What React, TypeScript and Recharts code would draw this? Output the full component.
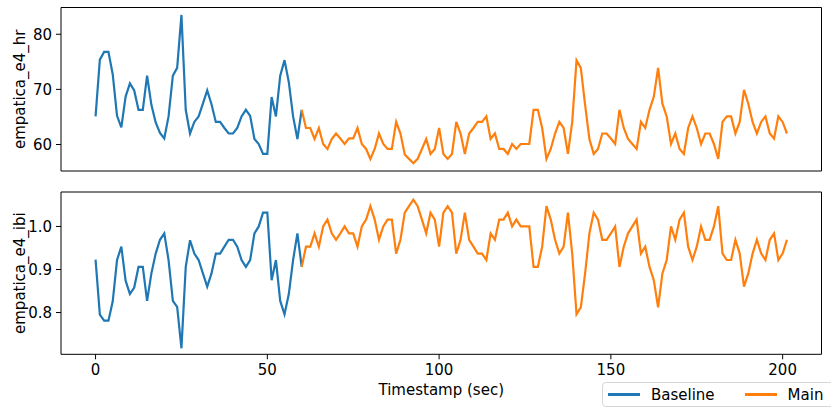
import React from 'react';
import { LineChart, Line, XAxis, YAxis, ReferenceArea } from 'recharts';

// Empatica E4 HR / IBI, baseline vs main session, sampled every 1.25 s.
const SAMPLE_PERIOD = 1.25;

const hrBaseline = [
  65.1, 75.4, 76.8, 76.8, 72.7, 65.2, 63.1, 68.7, 71.1, 69.8,
  66.3, 66.3, 72.5, 67.2, 64.0, 62.1, 61.1, 65.1, 72.5, 73.9,
  83.5, 66.3, 62.0, 64.1, 65.1, 67.4, 69.8, 67.3, 64.1, 64.1,
  63.0, 62.0, 62.0, 63.0, 65.1, 66.3, 65.2, 61.0, 60.1, 58.3,
  58.3, 68.6, 65.1, 72.5, 75.3, 71.3, 65.1, 61.0, 66.3,
];

// starts on the last baseline sample
const hrMain = [
  66.3, 63.0, 63.0, 61.0, 63.0, 60.1, 59.2, 61.0, 62.0, 61.1,
  60.1, 61.1, 61.1, 63.0, 60.1, 59.2, 57.4, 59.2, 62.0, 60.1,
  59.2, 59.2, 64.1, 62.0, 58.2, 57.4, 56.6, 57.4, 59.2, 61.0,
  58.3, 59.2, 63.0, 58.3, 57.4, 58.3, 64.1, 62.0, 58.3, 62.0,
  63.0, 64.1, 64.1, 65.1, 61.0, 62.0, 59.2, 59.2, 58.3, 60.1,
  59.2, 60.1, 60.1, 60.1, 66.3, 66.3, 63.0, 57.4, 59.2, 62.0,
  64.1, 63.0, 58.3, 64.1, 75.3, 73.9, 67.2, 61.0, 58.3, 59.2,
  62.0, 62.0, 61.1, 60.1, 66.3, 63.0, 61.0, 60.1, 59.2, 64.1,
  63.0, 66.3, 68.7, 73.9, 67.4, 65.1, 60.1, 62.0, 59.2, 58.3,
  63.0, 65.1, 63.0, 60.1, 62.0, 62.0, 60.1, 57.4, 64.1, 65.1,
  65.1, 62.0, 64.1, 69.9, 67.4, 64.1, 62.0, 64.1, 65.1, 62.0,
  61.1, 65.1, 64.1, 62.0,
];

const ibiBaseline = [
  0.923, 0.795, 0.781, 0.781, 0.826, 0.922, 0.953, 0.874, 0.843, 0.858,
  0.906, 0.906, 0.827, 0.891, 0.937, 0.969, 0.984, 0.922, 0.827, 0.813,
  0.717, 0.906, 0.968, 0.937, 0.922, 0.891, 0.860, 0.891, 0.937, 0.937,
  0.953, 0.969, 0.969, 0.953, 0.922, 0.906, 0.922, 0.984, 1.000, 1.032,
  1.032, 0.875, 0.922, 0.827, 0.796, 0.843, 0.922, 0.984, 0.906,
];

const ibiMain = [
  0.906, 0.953, 0.953, 0.984, 0.953, 1.000, 1.016, 0.984, 0.969, 0.984,
  1.000, 0.984, 0.984, 0.953, 1.000, 1.016, 1.047, 1.016, 0.969, 1.000,
  1.016, 1.016, 0.937, 0.969, 1.032, 1.047, 1.062, 1.047, 1.016, 0.984,
  1.032, 1.016, 0.953, 1.032, 1.047, 1.032, 0.937, 0.969, 1.032, 0.969,
  0.953, 0.937, 0.937, 0.922, 0.984, 0.969, 1.016, 1.016, 1.032, 1.000,
  1.016, 1.000, 1.000, 1.000, 0.906, 0.906, 0.953, 1.047, 1.016, 0.969,
  0.937, 0.953, 1.032, 0.937, 0.796, 0.812, 0.891, 0.984, 1.032, 1.016,
  0.969, 0.969, 0.984, 1.000, 0.906, 0.953, 0.984, 1.000, 1.016, 0.937,
  0.953, 0.906, 0.875, 0.812, 0.891, 0.922, 1.000, 0.969, 1.016, 1.032,
  0.953, 0.922, 0.953, 1.000, 0.969, 0.969, 1.000, 1.047, 0.937, 0.922,
  0.922, 0.969, 0.937, 0.860, 0.891, 0.937, 0.969, 0.937, 0.922, 0.969,
  0.984, 0.922, 0.937, 0.969,
];

const xTicks = [0, 50, 100, 150, 200];
const hrTicks = [60, 70, 80];
const ibiTicks = [0.8, 0.9, 1.0];

const X_DOMAIN: [number, number] = [-10.06, 211.31];
const HR_DOMAIN: [number, number] = [55.2, 84.85];
const IBI_DOMAIN: [number, number] = [0.703, 1.08];

const BLUE = '#1f77b4';
const ORANGE = '#ff7f0e';
const FONT = '"DejaVu Sans", sans-serif';
const TICK = { fill: '#000', fontSize: 15 };

const mainOffset = hrBaseline.length - 1;
const data = Array.from({ length: mainOffset + hrMain.length }, (_, i) => ({
  t: i * SAMPLE_PERIOD,
  hrBase: i <= mainOffset ? hrBaseline[i] : undefined,
  hrMain: i >= mainOffset ? hrMain[i - mainOffset] : undefined,
  ibiBase: i <= mainOffset ? ibiBaseline[i] : undefined,
  ibiMain: i >= mainOffset ? ibiMain[i - mainOffset] : undefined,
}));

function yLabel(value: string) {
  return {
    value,
    angle: -90,
    position: 'insideLeft' as const,
    offset: 20,
    style: { textAnchor: 'middle', fill: '#000', fontSize: 15 },
  };
}

function Legend() {
  const handle = (color: string) => (
    <span style={{ display: 'inline-block', width: 32, height: 2.2, background: color }} />
  );
  return (
    <div
      style={{
        position: 'absolute',
        left: 602,
        top: 382,
        width: 240,
        height: 25,
        boxSizing: 'border-box',
        border: '1px solid #d6d6d6',
        borderRadius: 4,
        background: 'rgba(255,255,255,0.85)',
        display: 'flex',
        alignItems: 'center',
        paddingLeft: 5,
        fontSize: 15,
        color: '#000',
        whiteSpace: 'nowrap',
      }}
    >
      {handle(BLUE)}
      <span style={{ marginLeft: 11 }}>Baseline</span>
      <span style={{ marginLeft: 30, display: 'flex', alignItems: 'center' }}>{handle(ORANGE)}</span>
      <span style={{ marginLeft: 11 }}>Main</span>
    </div>
  );
}

export default function App() {
  return (
    <div
      style={{
        position: 'fixed',
        left: 0,
        top: 0,
        width: 831,
        height: 416,
        overflow: 'hidden',
        background: '#fff',
        fontFamily: FONT,
      }}
    >
      <div style={{ position: 'absolute', left: 0, top: 0 }}>
        <LineChart width={831} height={180} data={data} margin={{ top: 7.5, right: 9.5, left: 0, bottom: 9 }}>
          <XAxis dataKey="t" type="number" domain={X_DOMAIN} allowDataOverflow hide />
          <YAxis
            type="number"
            domain={HR_DOMAIN}
            allowDataOverflow
            ticks={hrTicks}
            width={61}
            axisLine={false}
            tickSize={5}
            tickMargin={4}
            tickLine={{ stroke: '#000' }}
            tick={TICK}
            label={yLabel('empatica_e4_hr')}
          />
          <ReferenceArea
            x1={X_DOMAIN[0]}
            x2={X_DOMAIN[1]}
            y1={HR_DOMAIN[0]}
            y2={HR_DOMAIN[1]}
            fill="none"
            stroke="#000"
            strokeWidth={1}
            ifOverflow="visible"
          />
          <Line dataKey="hrBase" stroke={BLUE} strokeWidth={2.2} dot={false} activeDot={false} isAnimationActive={false} />
          <Line dataKey="hrMain" stroke={ORANGE} strokeWidth={2.2} dot={false} activeDot={false} isAnimationActive={false} />
        </LineChart>
      </div>
      <div style={{ position: 'absolute', left: 0, top: 180 }}>
        <LineChart width={831} height={236} data={data} margin={{ top: 12, right: 9.5, left: 0, bottom: 0 }}>
          <XAxis
            dataKey="t"
            type="number"
            domain={X_DOMAIN}
            allowDataOverflow
            ticks={xTicks}
            height={61.7}
            axisLine={false}
            tickSize={5}
            tickMargin={5}
            tickLine={{ stroke: '#000' }}
            tick={TICK}
            label={{ value: 'Timestamp (sec)', position: 'insideBottom', offset: 21, fill: '#000', fontSize: 15 }}
          />
          <YAxis
            type="number"
            domain={IBI_DOMAIN}
            allowDataOverflow
            ticks={ibiTicks}
            tickFormatter={(v: number) => v.toFixed(1)}
            width={61}
            axisLine={false}
            tickSize={5}
            tickMargin={4}
            tickLine={{ stroke: '#000' }}
            tick={TICK}
            label={yLabel('empatica_e4_ibi')}
          />
          <ReferenceArea
            x1={X_DOMAIN[0]}
            x2={X_DOMAIN[1]}
            y1={IBI_DOMAIN[0]}
            y2={IBI_DOMAIN[1]}
            fill="none"
            stroke="#000"
            strokeWidth={1}
            ifOverflow="visible"
          />
          <Line dataKey="ibiBase" stroke={BLUE} strokeWidth={2.2} dot={false} activeDot={false} isAnimationActive={false} />
          <Line dataKey="ibiMain" stroke={ORANGE} strokeWidth={2.2} dot={false} activeDot={false} isAnimationActive={false} />
        </LineChart>
      </div>
      <Legend />
    </div>
  );
}
